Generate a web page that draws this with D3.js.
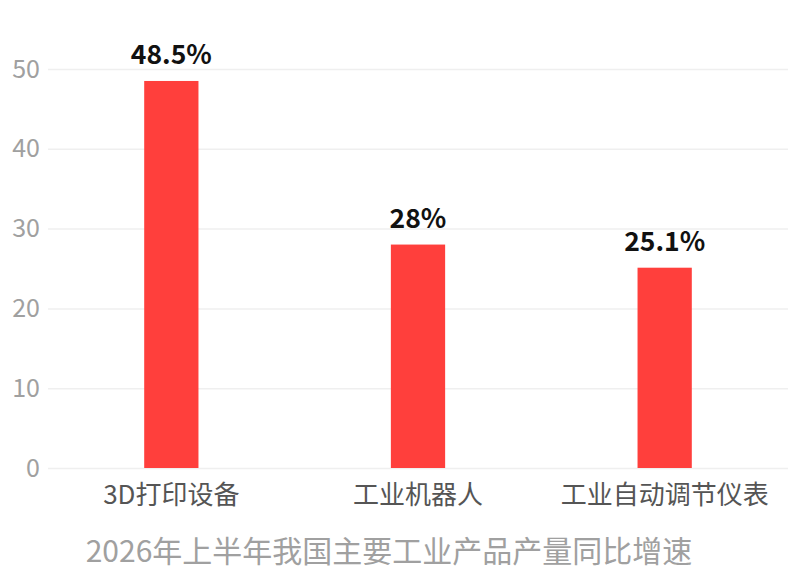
<!DOCTYPE html>
<html>
<head>
<meta charset="utf-8">
<script src="https://cdn.jsdelivr.net/npm/d3@7"></script>
<style>
  body { margin: 0; background: #fff; }
  svg text { font-family: "Noto Sans CJK SC", "Noto Sans", sans-serif; }
</style>
</head>
<body>
<div id="chart"></div>
<script>
// data
const categories = ["3D打印设备", "工业机器人", "工业自动调节仪表"];
const values = [48.5, 28, 25.1];
const valueLabels = ["48.5%", "28%", "25.1%"];
const yTicks = [0, 10, 20, 30, 40, 50];
const title = "2026年上半年我国主要工业产品产量同比增速";

const width = 800, height = 576;
const margin = { top: 69, right: 12, bottom: 108, left: 48 };

const svg = d3.select("#chart").append("svg")
    .attr("width", width)
    .attr("height", height);

const x = d3.scaleBand()
    .domain(categories)
    .range([margin.left, width - margin.right])
    .paddingInner(0.78)
    .paddingOuter(0.39);

const y = d3.scaleLinear()
    .domain([0, 50])
    .range([height - margin.bottom, margin.top]);

// grid + y labels
const yAxis = d3.axisLeft(y)
    .tickValues(yTicks)
    .tickSize(-(width - margin.left - margin.right))
    .tickPadding(8);

svg.append("g")
    .attr("transform", "translate(" + margin.left + ",0)")
    .call(yAxis)
    .call(g => g.select(".domain").remove())
    .call(g => g.selectAll("line").attr("stroke", "#efefef").attr("stroke-width", 1.5))
    .call(g => g.selectAll("text")
        .attr("fill", "#a0a0a0")
        .attr("font-size", 25));

// x labels
const xAxis = d3.axisBottom(x).tickSize(0).tickPadding(18);
svg.append("g")
    .attr("transform", "translate(0," + (height - margin.bottom) + ")")
    .call(xAxis)
    .call(g => g.select(".domain").remove())
    .call(g => g.selectAll("text")
        .attr("fill", "#555")
        .attr("font-size", 26));

// bars
svg.selectAll(".bar")
    .data(values)
    .join("rect")
    .attr("class", "bar")
    .attr("x", (d, i) => x(categories[i]))
    .attr("width", x.bandwidth())
    .attr("y", d => y(d))
    .attr("height", d => y(0) - y(d))
    .attr("fill", "#ff3f3c");

// value labels
svg.selectAll(".val")
    .data(values)
    .join("text")
    .attr("class", "val")
    .attr("x", (d, i) => x(categories[i]) + x.bandwidth() / 2)
    .attr("y", d => y(d) - 17)
    .attr("text-anchor", "middle")
    .attr("font-size", 26.5)
    .attr("font-weight", "bold")
    .attr("fill", "#111")
    .text((d, i) => valueLabels[i]);

// title
svg.append("text")
    .attr("x", 389)
    .attr("y", 562)
    .attr("text-anchor", "middle")
    .attr("font-size", 30)
    .attr("fill", "#a0a0a0")
    .text(title);
</script>
</body>
</html>
